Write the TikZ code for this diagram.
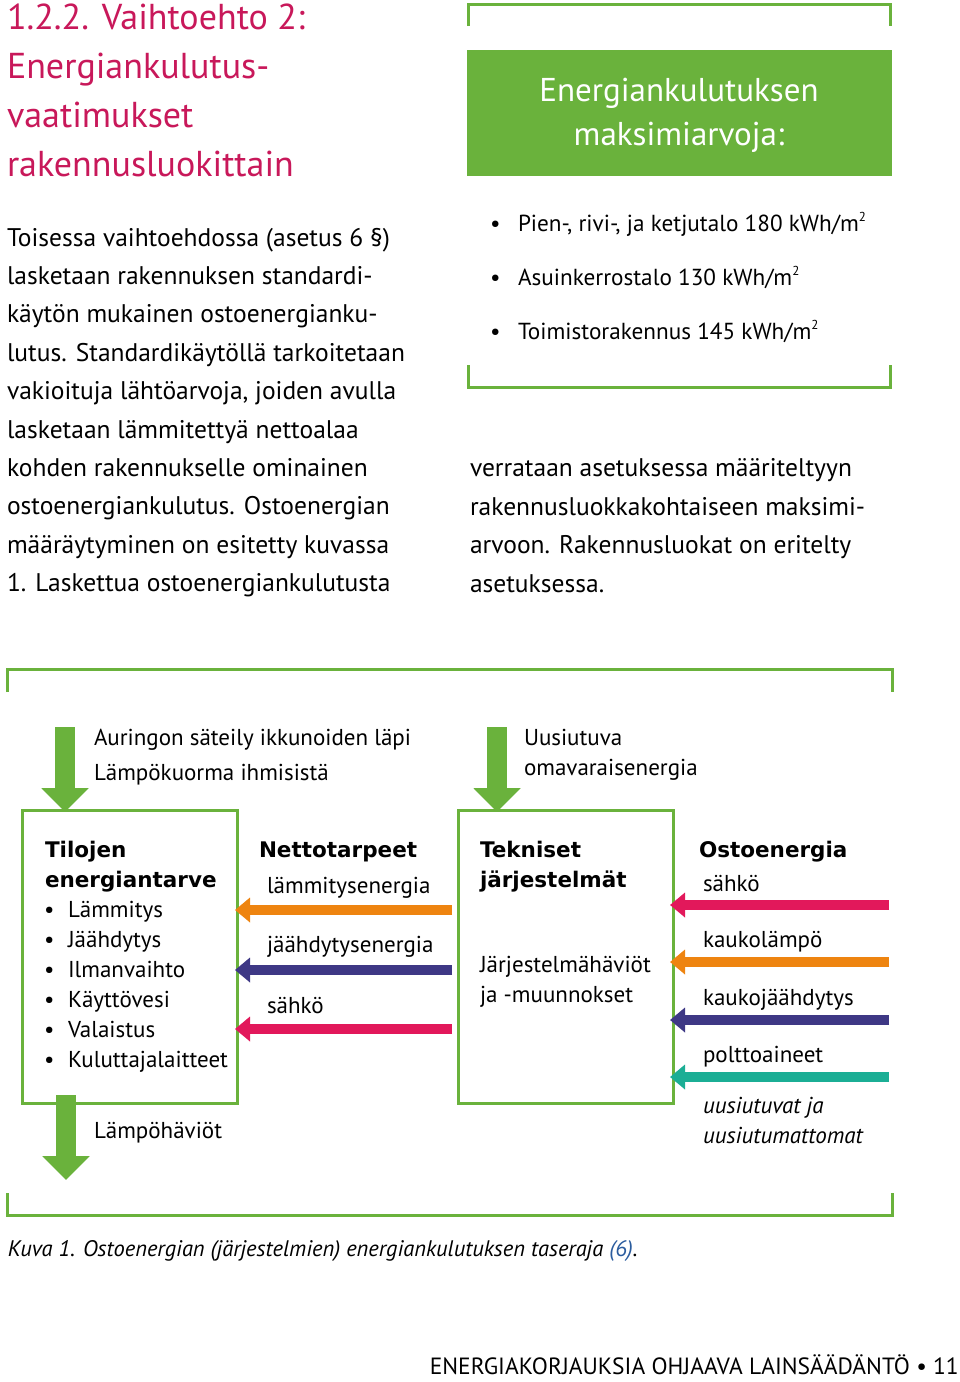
\documentclass[tikz,border=0pt]{standalone}
\usepackage{fontspec}
\setmainfont{PT Sans}
\newfontfamily\bfam{DejaVu Sans}[BoldFont={DejaVu Sans Bold}]
\usetikzlibrary{arrows.meta}
\definecolor{gr}{HTML}{6AB23C}
\definecolor{headc}{HTML}{C8185A}
\definecolor{orc}{HTML}{EE8410}
\definecolor{puc}{HTML}{3E3885}
\definecolor{pkc}{HTML}{E2185B}
\definecolor{tec}{HTML}{1BAE95}
\definecolor{blc}{HTML}{2B5C9E}
\newcommand\sqm{m\raisebox{0.4em}{\fontsize{13}{13}\selectfont 2}}
\begin{document}
\begin{tikzpicture}[x=1pt,y=-1pt,
  tx/.style={anchor=base west,inner sep=0pt,outer sep=0pt},
  head/.style={tx,text=headc,font=\fontsize{36}{40}\selectfont},
  body/.style={tx,font=\fontsize{25.5}{30}\selectfont},
  lst/.style={tx,font=\fontsize{23.2}{27}\selectfont},
  dg/.style={tx,font=\fontsize{23}{27}\selectfont},
  dgb/.style={tx,font=\fontsize{21.5}{26}\bfam\bfseries},
  dgi/.style={tx,font=\fontsize{23}{27}\selectfont\itshape},
  gline/.style={draw=gr,line width=3pt},
  gbox/.style={draw=gr,line width=3pt,anchor=north west,inner sep=0pt},
  varr/.style={draw=gr,line width=20pt,-{Triangle[width=46pt,length=24pt]}},
  harr/.style={line width=10pt,-{Triangle[width=24pt,length=15pt]}}]
\useasboundingbox (0,0) rectangle (960,1382);
% heading
\foreach \t/\y [count=\i] in {{1.2.2. Vaihtoehto 2:}/29,{Energiankulutus-}/78,{vaatimukset}/127,{rakennusluokittain}/176}
  \node[head] (h\i) at (7,\y) {\t};
% left body text
\foreach \t [count=\i] in {{Toisessa vaihtoehdossa (asetus 6 §)},{lasketaan rakennuksen standardi-},{käytön mukainen ostoenergianku-},{lutus. Standardikäytöllä tarkoitetaan},{vakioituja lähtöarvoja, joiden avulla},{lasketaan lämmitettyä nettoalaa},{kohden rakennukselle ominainen},{ostoenergiankulutus. Ostoenergian},{määräytyminen on esitetty kuvassa},{1. Laskettua ostoenergiankulutusta}}
  \node[body] (l\i) at (7,{246+38.4*(\i-1)}) {\t};
% right body text
\foreach \t [count=\i] in {{verrataan asetuksessa määriteltyyn},{rakennusluokkakohtaiseen maksimi-},{arvoon. Rakennusluokat on eritelty},{asetuksessa.}}
  \node[body] (r\i) at (470,{476.8+38.4*(\i-1)}) {\t};
% top right frame
\draw[gline] (468,26) -- (468,4) -- (890,4) -- (890,26);
\draw[gline] (468,365) -- (468,387) -- (890,387) -- (890,365);
\node[fill=gr,anchor=north west,inner sep=0pt,minimum width=425pt,minimum height=126pt] (gb) at (467,50) {};
\node[anchor=base,inner sep=0pt,text=white,font=\fontsize{33}{38}\selectfont] (gt1) at (679,101) {Energiankulutuksen};
\node[anchor=base,inner sep=0pt,text=white,font=\fontsize{33}{38}\selectfont] (gt2) at (679,145) {maksimiarvoja:};
\foreach \t/\y [count=\i] in {{Pien-, rivi-, ja ketjutalo 180 kWh/\sqm}/231,{Asuinkerrostalo 130 kWh/\sqm}/285,{Toimistorakennus 145 kWh/\sqm}/339}{
  \node[lst] (bd\i) at (490,\y) {•};
  \node[lst] (bt\i) at (518,\y) {\t};
}
% diagram frame
\draw[gline] (7,692) -- (7,669) -- (892,669) -- (892,692);
\draw[gline] (7,1193) -- (7,1215) -- (892,1215) -- (892,1193);
% boxes
\node[gbox,minimum width=215pt,minimum height=293pt] (b1) at (21,809) {};
\node[gbox,minimum width=215pt,minimum height=293pt] (b2) at (457,809) {};
% vertical arrows
\coordinate (s1) at (65,727);
\coordinate (s2) at (497,727);
\coordinate (s3) at (66,1180);
\draw[varr,shorten >=-3pt] (s1) -- (s1 |- b1.north);
\draw[varr,shorten >=-3pt] (s2) -- (s2 |- b2.north);
\draw[varr] ([yshift=10pt]b1.south -| s3) -- (s3);
\node[dg] (a1) at (94,745) {Auringon säteily ikkunoiden läpi};
\node[dg] (a2) at (94,780) {Lämpökuorma ihmisistä};
\node[dg] (u1) at (524,745) {Uusiutuva};
\node[dg] (u2) at (524,775) {omavaraisenergia};
\node[dg] (lh) at (94,1138) {Lämpöhäviöt};
% box 1 text
\node[dgb] (t1) at (45,857) {Tilojen};
\node[dgb] (t2) at (45,887) {energiantarve};
\foreach \t [count=\i] in {Lämmitys,Jäähdytys,Ilmanvaihto,Käyttövesi,Valaistus,Kuluttajalaitteet}{
  \node[dg] (kd\i) at (44,{917+30*(\i-1)}) {•};
  \node[dg] (kt\i) at (68,{917+30*(\i-1)}) {\t};
}
% middle
\node[dgb] (nt) at (259,857) {Nettotarpeet};
\node[dg] (n1) at (267,893) {lämmitysenergia};
\node[dg] (n2) at (267,952) {jäähdytysenergia};
\node[dg] (n3) at (267,1013) {sähkö};
\coordinate (m1) at (452,910);
\coordinate (m2) at (452,970);
\coordinate (m3) at (452,1029);
\draw[harr,orc,shorten >=-4pt] (m1) -- (b1.east |- m1);
\draw[harr,puc,shorten >=-4pt] (m2) -- (b1.east |- m2);
\draw[harr,pkc,shorten >=-4pt] (m3) -- (b1.east |- m3);
% box 2 text
\node[dgb] (k1) at (480,857) {Tekniset};
\node[dgb] (k2) at (480,887) {järjestelmät};
\node[dg] (k3) at (480,972) {Järjestelmähäviöt};
\node[dg] (k4) at (480,1002) {ja -muunnokset};
% right
\node[dgb] (ot) at (699,857) {Ostoenergia};
\node[dg] (o1) at (703,891) {sähkö};
\node[dg] (o2) at (703,947) {kaukolämpö};
\node[dg] (o3) at (703,1005) {kaukojäähdytys};
\node[dg] (o4) at (703,1062) {polttoaineet};
\node[dgi] (o5) at (703,1113) {uusiutuvat ja};
\node[dgi] (o6) at (703,1143) {uusiutumattomat};
\coordinate (q1) at (889,905);
\coordinate (q2) at (889,962);
\coordinate (q3) at (889,1020);
\coordinate (q4) at (889,1077);
\draw[harr,pkc,shorten >=-5pt] (q1) -- (b2.east |- q1);
\draw[harr,orc,shorten >=-5pt] (q2) -- (b2.east |- q2);
\draw[harr,puc,shorten >=-5pt] (q3) -- (b2.east |- q3);
\draw[harr,tec,shorten >=-5pt] (q4) -- (b2.east |- q4);
% caption and footer
\node[tx,font=\fontsize{22.5}{26}\selectfont\itshape] (cap) at (8,1256) {Kuva 1. Ostoenergian (järjestelmien) energiankulutuksen taseraja \textcolor{blc}{(6)}.};
\node[anchor=base east,inner sep=0pt,font=\fontsize{23.5}{27}\selectfont] (ft) at (959,1374) {ENERGIAKORJAUKSIA OHJAAVA LAINSÄÄDÄNTÖ • 11};
\end{tikzpicture}
\end{document}
